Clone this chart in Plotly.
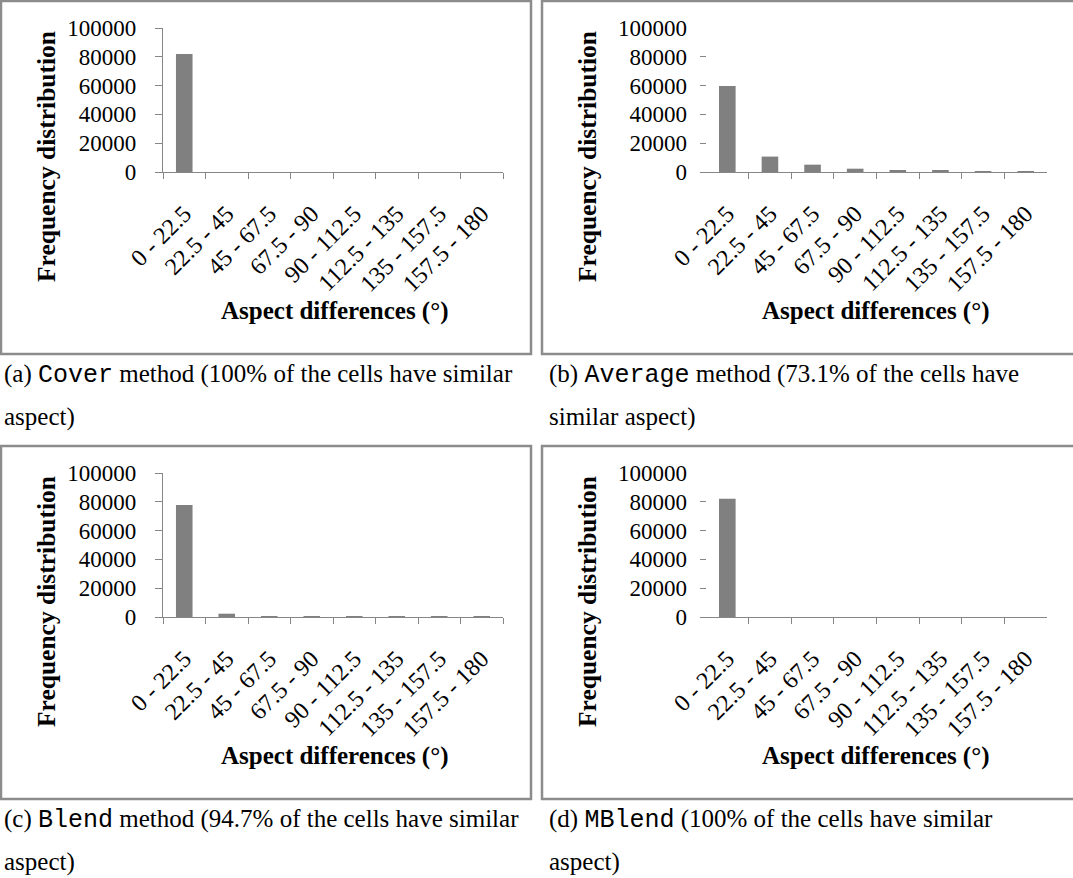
import plotly.graph_objects as go

# Aspect-difference classes (degrees)
categories = ["0 - 22.5", "22.5 - 45", "45 - 67.5", "67.5 - 90",
              "90 - 112.5", "112.5 - 135", "135 - 157.5", "157.5 - 180"]

# Cell counts per class for each generalisation method
cover = [82000, 0, 0, 0, 0, 0, 0, 0]
average = [59800, 10700, 5100, 2300, 1300, 1200, 600, 400]
blend = [77800, 2300, 600, 400, 300, 200, 200, 200]
mblend = [82100, 0, 0, 0, 0, 0, 0, 0]

y_ticks = [0, 20000, 40000, 60000, 80000, 100000]

captions = [
    ("(a) <span style='font-family:Liberation Mono'>Cover</span> method (100% of the cells have similar", "aspect)"),
    ("(b) <span style='font-family:Liberation Mono'>Average</span> method (73.1% of the cells have", "similar aspect)"),
    ("(c) <span style='font-family:Liberation Mono'>Blend</span> method (94.7% of the cells have similar", "aspect)"),
    ("(d) <span style='font-family:Liberation Mono'>MBlend</span> (100% of the cells have similar", "aspect)"),
]

W, H = 1073, 878
SERIF = "Liberation Serif"
AXIS_GREY = "#868686"
BOX_GREY = "#8c8c8c"
BAR_GREY = "#808080"


def px(x):
    return x / W


def py(y):
    return 1 - y / H


# Panel geometry in pixels
panels = [
    dict(data=cover, bx=0, by=0, x0=163, x1=503, yt=28, yb=172, yline=True),
    dict(data=average, bx=541, by=0, x0=700, x1=1047, yt=28, yb=172, yline=False),
    dict(data=blend, bx=0, by=445, x0=163, x1=503, yt=473, yb=617, yline=True),
    dict(data=mblend, bx=541, by=445, x0=700, x1=1047, yt=473, yb=617, yline=False),
]

fig = go.Figure()
annotations = []
shapes = []
extra_axis = 5  # next free axis number for the interior-tick overlays

for i, p in enumerate(panels):
    n = i + 1
    xa = "x" if n == 1 else f"x{n}"
    ya = "y" if n == 1 else f"y{n}"
    fig.add_trace(go.Bar(x=categories, y=p["data"], xaxis=xa, yaxis=ya,
                         marker=dict(color=BAR_GREY, line=dict(width=0)),
                         showlegend=False, hoverinfo="x+y"))

    if p["yline"]:
        xrange = [-0.5, 7.5]
        x_ticks = dict(ticks="outside", tickson="boundaries")
        yaxis_style = dict(showline=True, linecolor=AXIS_GREY, linewidth=1.3,
                           ticks="outside", ticklen=7, tickcolor=AXIS_GREY,
                           tickwidth=1.3, ticklabelstandoff=14)
    else:
        # category area starts one tick length right of the axis origin
        cat_w = (p["x1"] - p["x0"] - 6) / 8
        xrange = [-0.5 - 6 / cat_w, 7.5]
        x_ticks = dict(ticks="")
        yaxis_style = dict(showline=False, ticks="inside", ticklen=6,
                           tickcolor=AXIS_GREY, tickwidth=1.3,
                           ticklabelstandoff=12)
        # overlay axis carrying only the interior category boundaries
        ov = f"x{extra_axis}"
        fig.update_layout(**{f"xaxis{extra_axis}": dict(
            overlaying=xa, anchor=ya, domain=[px(p["x0"]), px(p["x1"])],
            type="linear", range=xrange,
            tickvals=[k + 0.5 for k in range(len(categories) - 1)],
            showticklabels=False, ticks="outside", ticklen=6,
            tickcolor=AXIS_GREY, tickwidth=1.3, showline=False,
            showgrid=False, zeroline=False, automargin=False, fixedrange=True)})
        fig.add_trace(go.Scatter(x=[None], y=[None], xaxis=ov, yaxis=ya,
                                 mode="markers", showlegend=False,
                                 hoverinfo="skip"))
        extra_axis += 1

    fig.update_layout(**{
        ("xaxis" if n == 1 else f"xaxis{n}"): dict(
            domain=[px(p["x0"]), px(p["x1"])], anchor=ya, type="category",
            range=xrange, showline=True, linecolor=AXIS_GREY, linewidth=1.3,
            ticklen=6, tickcolor=AXIS_GREY, tickwidth=1.3,
            tickangle=-45, showgrid=False, zeroline=False,
            automargin=False, ticklabelstandoff=17,
            tickfont=dict(family=SERIF, size=24, color="black"),
            fixedrange=True, **x_ticks),
        ("yaxis" if n == 1 else f"yaxis{n}"): dict(
            domain=[py(p["yb"]), py(p["yt"])], anchor=xa, range=[0, 100000],
            tickvals=y_ticks, tickformat="d", showgrid=False, zeroline=False,
            automargin=False,
            tickfont=dict(family=SERIF, size=23, color="black"),
            fixedrange=True, **yaxis_style),
    })

    # panel frame
    shapes.append(dict(type="rect", xref="paper", yref="paper",
                       x0=px(p["bx"] + 1), x1=px(p["bx"] + 531 if p["bx"] == 0 else W + 5),
                       y0=py(p["by"] + 354), y1=py(p["by"] + 1),
                       line=dict(color=BOX_GREY, width=2.5), layer="below"))

    # axis titles
    annotations.append(dict(text="<b>Frequency distribution</b>", xref="paper", yref="paper",
                            x=px(p["bx"] + 46), y=py(p["by"] + 157), textangle=-90,
                            showarrow=False, xanchor="center", yanchor="middle",
                            font=dict(family=SERIF, size=25.5, color="black")))
    annotations.append(dict(text="<b>Aspect differences (°)</b>", xref="paper", yref="paper",
                            x=px((p["x0"] + p["x1"]) / 2 + 2), y=py(p["by"] + 311),
                            showarrow=False, xanchor="center", yanchor="middle",
                            font=dict(family=SERIF, size=25, color="black")))

    # caption below the frame
    line1, line2 = captions[i]
    cx = p["bx"] + (2 if p["bx"] == 0 else 6)
    for text, yy in ((line1, p["by"] + 375), (line2, p["by"] + 417)):
        annotations.append(dict(text=text, xref="paper", yref="paper",
                                x=px(cx), y=py(yy), showarrow=False,
                                xanchor="left", yanchor="middle",
                                font=dict(family=SERIF, size=25, color="black")))

fig.update_layout(template="none", width=W, height=H,
                  margin=dict(l=0, r=0, t=0, b=0, autoexpand=False),
                  paper_bgcolor="white", plot_bgcolor="rgba(0,0,0,0)",
                  bargap=0.61, showlegend=False,
                  annotations=annotations, shapes=shapes)

fig.write_html("out.html", config={"responsive": False, "displayModeBar": False})
